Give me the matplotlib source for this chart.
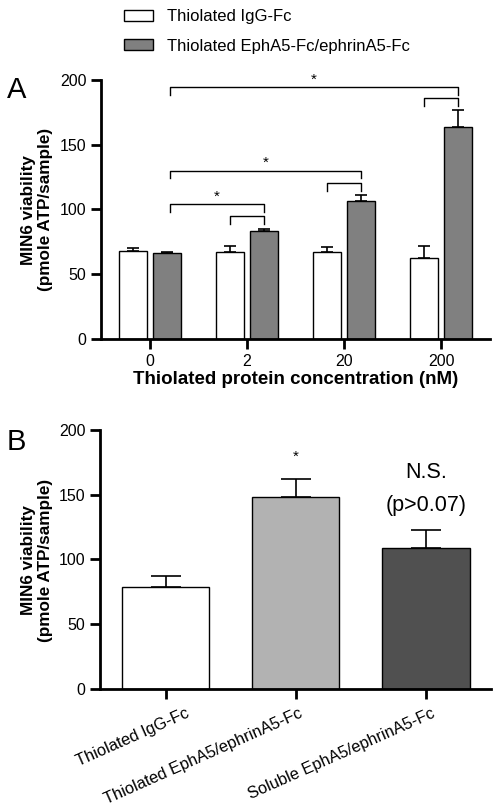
import numpy as np
import matplotlib.pyplot as plt
import matplotlib.transforms as mtransforms
from matplotlib.patches import Patch

plt.rcParams['font.family'] = ['Liberation Sans', 'DejaVu Sans']

# Panel A data
conc_labels = ['0', '2', '20', '200']
igg_mean = [68, 67, 67.5, 62.5]
igg_err = [2.5, 5, 3.5, 9.5]
eph_mean = [66.5, 83.5, 106.5, 164]
eph_err = [0.7, 1.5, 4.5, 12.5]

# Panel B data
b_labels = ['Thiolated IgG-Fc', 'Thiolated EphA5/ephrinA5-Fc', 'Soluble EphA5/ephrinA5-Fc']
b_mean = [79, 148, 108.5]
b_err = [8.5, 14, 14.5]
b_colors = ['white', '#b2b2b2', '#505050']

fig = plt.figure(figsize=(5.0, 8.07), dpi=100)

def style_axes(ax):
    for s in ['top', 'right']:
        ax.spines[s].set_visible(False)
    ax.spines['left'].set_linewidth(2)
    ax.spines['bottom'].set_linewidth(2)
    ax.tick_params(axis='both', width=2, length=7, labelsize=11.5)
    ax.set_ylim(0, 200)
    ax.set_yticks([0, 50, 100, 150, 200])

# ---- Panel A ----
axA = fig.add_axes([0.202, 0.58, 0.778, 0.321])
x = np.arange(len(conc_labels))
w = 0.29
off = 0.175
axA.bar(x - off, igg_mean, w, yerr=[np.zeros(4), igg_err], color='white', edgecolor='black',
        linewidth=1, error_kw=dict(elinewidth=1.2, capsize=4.5, capthick=1.2))
axA.bar(x + off, eph_mean, w, yerr=[np.zeros(4), eph_err], color='#808080', edgecolor='black',
        linewidth=1, error_kw=dict(elinewidth=1.2, capsize=4.5, capthick=1.2))
axA.set_xlim(-0.505, 3.505)
axA.set_xticks(x)
axA.set_xticklabels(conc_labels)
style_axes(axA)
axA.set_xlabel('Thiolated protein concentration (nM)', fontsize=13.5, fontweight='bold', labelpad=2)

def bracket(ax, x1, x2, y, h, star=None):
    ax.plot([x1, x1, x2, x2], [y - h, y, y, y - h], color='black', lw=1)
    if star:
        ax.text((x1 + x2) / 2, y + 0.5, '*', ha='center', va='bottom', fontsize=11)

# significance brackets
g0 = 0 + off + 0.03
bracket(axA, g0, 3 + off, 194.5, 6, True)
bracket(axA, 3 - off, 3 + off, 186, 6)
bracket(axA, g0, 2 + off, 130, 6, True)
bracket(axA, 2 - off, 2 + off, 120.5, 6)
bracket(axA, g0, 1 + off, 104, 6, True)
bracket(axA, 1 - off, 1 + off, 95, 6)

fig.text(0.014, 0.889, 'A', fontsize=21, va='center')
fig.text(0.074, 0.74, 'MIN6 viability\n(pmole ATP/sample)', rotation=90, ha='center', va='center',
         fontsize=12.3, fontweight='bold', linespacing=1.1)

handles = [Patch(facecolor='white', edgecolor='black', label='Thiolated IgG-Fc'),
           Patch(facecolor='#808080', edgecolor='black', label='Thiolated EphA5-Fc/ephrinA5-Fc')]
fig.legend(handles=handles, loc='upper left', bbox_to_anchor=(0.218, 1.007), frameon=False,
           fontsize=12, handlelength=1.75, handleheight=0.6, labelspacing=0.85, handletextpad=0.85)

# ---- Panel B ----
axB = fig.add_axes([0.2, 0.1462, 0.782, 0.321])
xb = np.arange(len(b_labels))
axB.bar(xb, b_mean, 0.67, yerr=[np.zeros(3), b_err], color=b_colors, edgecolor='black',
        linewidth=1, error_kw=dict(elinewidth=1.2, capsize=11, capthick=1.2))
axB.set_xlim(-0.504, 2.5)
axB.set_xticks(xb)
axB.set_xticklabels(b_labels, rotation=24, ha='right', rotation_mode='anchor')
style_axes(axB)
axB.tick_params(axis='x', labelsize=11.8)
shifts = [20, 3, 5]
for lab, dx in zip(axB.get_xticklabels(), shifts):
    lab.set_transform(lab.get_transform() + mtransforms.ScaledTranslation(dx / 100, -2 / 100, fig.dpi_scale_trans))
axB.text(1, 174, '*', ha='center', va='bottom', fontsize=11)
axB.text(2, 167, 'N.S.', ha='center', va='center', fontsize=15.5)
axB.text(2, 142, '(p>0.07)', ha='center', va='center', fontsize=15.5)

fig.text(0.014, 0.452, 'B', fontsize=21, va='center')
fig.text(0.074, 0.306, 'MIN6 viability\n(pmole ATP/sample)', rotation=90, ha='center', va='center',
         fontsize=12.3, fontweight='bold', linespacing=1.1)

fig.savefig('out.png', dpi=100)
